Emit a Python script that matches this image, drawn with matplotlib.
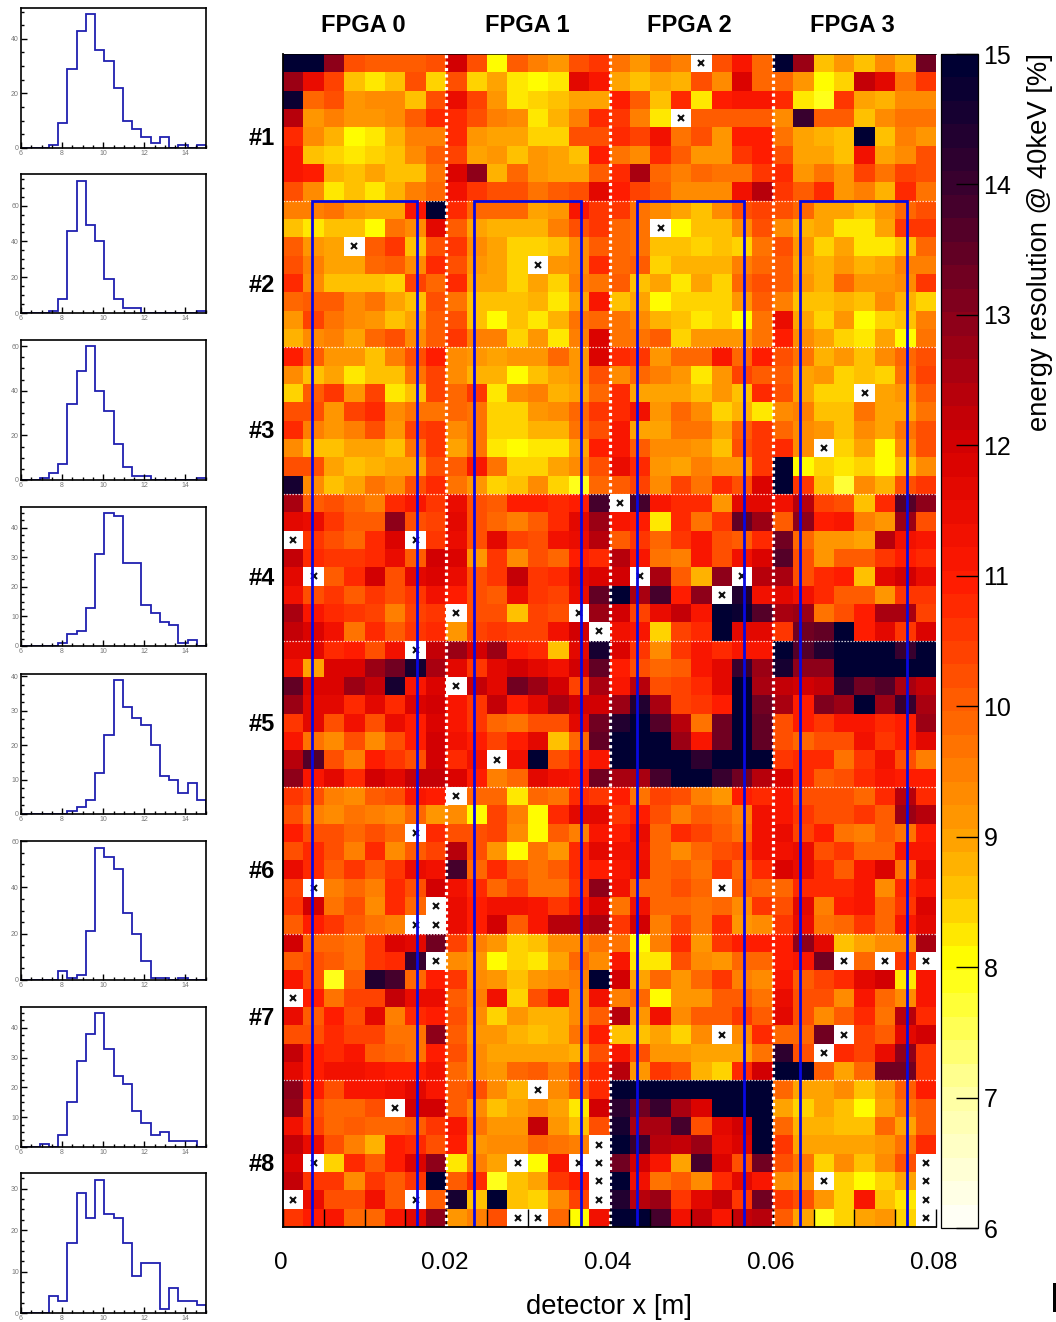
import matplotlib
matplotlib.use("Agg")
from matplotlib import pyplot as plt
from matplotlib.colors import LinearSegmentedColormap
from matplotlib.patches import Rectangle
from matplotlib.transforms import ScaledTranslation
import numpy as np

plt.rcParams['font.family'] = ['Liberation Sans', 'DejaVu Sans']

W, H = 1056, 1322
o = np.nan  # dead pixel, drawn white with a cross

# energy resolution per pixel, one block of 8 rows per module, 32 columns
module_1 = [
    [15,15,13,10.3,10,10,10,10.3, 12,10.3,8,10,9.5,9.2,10.3,10.5, 9.6,9.2,9.8,9.5,o,10.3,11.1,9.9, 15,12.8,8.6,9.1,8.6,9.4,8.8,13.2],
    [12.8,11.4,10.4,8.7,8.3,8.7,10.3,8.5, 10.2,8.4,9.0,8.3,8.1,8.3,11.6,11.2, 9.0,8.6,9.0,8.8,10.2,9.4,11.8,9.9, 9.9,9.2,8.1,8.5,12.2,11.6,9.7,10.6],
    [14.7,9.8,10.2,9.1,9.4,9.4,8.6,10.3, 11.4,10.4,9.2,8.3,8.4,8.7,9,9, 11,10,8.6,10.8,8.2,11,11.2,11.2, 10.8,8.3,7.8,10.5,9,8.8,9.4,9.4],
    [12.4,9.1,9.5,9.1,9.2,9.4,10,10.8, 10.8,10.2,9.5,9.3,8.3,8.8,9.5,10.7, 10.5,9.5,8.2,o,10,10,10,10, 9.4,14,10,10.1,8.7,9.4,9.6,9.7],
    [10.7,9.4,8.8,8.0,8.2,8.8,9.5,9.5, 10.8,9.1,9,9,8.5,8.5,10.2,10.2, 10.7,10.4,11.3,9.6,10.2,9.2,11,11, 9.6,8.9,8.8,8.6,15,8.6,9.5,9.1],
    [11.2,8.6,8.4,8.2,8.4,8.7,9.3,10.1, 10.4,9.0,9.2,8.6,9.1,8.9,8.7,10.9, 9.6,9.3,10.8,10,9.2,9.2,10.5,11, 10.2,9.0,9.0,8.7,11.3,9,9.4,10.2],
    [11.2,10.9,8.8,8.6,9,8.7,8.6,9.7, 11.9,13,8.8,9.9,9.1,9,9,10, 10.8,12.5,9.9,9.5,9.8,9.6,9.7,10.5, 10.7,9.1,9.6,9.2,10.4,9.6,10.4,10.3],
    [10.3,9.3,8.2,8.6,8.3,8.8,9.5,9.9, 11.3,10.6,10.2,10.2,9.7,10,10.2,11.7, 10.9,10.4,10,9.3,9.4,9.4,11.3,12.3, 10.6,10.0,10.8,9.1,9.5,8.8,10.7,9.7],
]
module_2 = [
    [9.5,9.5,9.6,9.2,9,9,11.2,15, 10.7,9.9,9.8,9.9,8.9,9.2,11.1,10.5, 10.5,9.7,9.4,9.0,8.6,9.4,10.2,10.4, 10.2,9.9,8.9,8.9,8.6,9.1,9.9,10.3],
    [8.7,8.3,8.6,8.7,8.1,9.6,9.4,11.6, 10.1,9.0,8.8,8.8,8.8,9.5,10.2,10.5, 9.8,9.6,o,8.0,8.6,8.6,9.3,10.3, 9.3,8.8,9.0,8.2,8.2,9.0,10.6,10.6],
    [10,9.2,8.9,o,10,10.6,8.7,10.2, 10.5,9.4,9.0,8.5,8.5,8.6,9.3,10.0, 9.9,9.6,8.7,8.6,8.4,8.7,8.5,9.6, 10.2,9.2,8.4,9.0,8.3,8.3,8.7,9.8],
    [10.2,9.5,8.9,8.9,9.8,10.1,9.3,10.7, 10.3,9.1,9.0,8.4,o,9.2,9.3,10.8, 9.9,10.0,8.4,8.8,8.8,8.8,9.5,9.9, 10.0,9.0,8.8,9.2,8.8,9.0,9.5,9.5],
    [10.7,9.3,8.6,8.6,8.6,8.4,10.4,9.8, 10.8,9.0,9.0,8.5,8.9,8.4,9.5,9.7, 10.1,8.6,8.9,8.2,8.9,8.5,9.8,10.2, 10.1,9.1,8.8,9.9,9.1,9.1,9.4,10.5],
    [9.8,10.0,10.0,9.3,9.6,8.9,8.6,10.2, 9.7,8.7,8.7,8.6,8.8,8.3,9.0,11.2, 8.7,9.0,8.1,8.4,8.4,8.4,9.1,10.0, 9.5,8.7,8.7,8.8,8.7,9.3,8.8,8.4],
    [9.1,10.4,9.6,9.4,9.2,8.7,8.9,10.0, 10.2,8.6,8.1,8.7,8.3,8.8,9.7,9.9, 9.6,9.3,8.8,8.6,8.3,8.4,8.0,9.7, 11.5,9.0,8.4,9.2,8.1,8.4,8.7,9.5],
    [8.8,9.4,9.5,9.0,9.8,10.2,9.3,10.1, 10.5,9.5,9.5,8.4,9.1,8.2,9.5,11.8, 9.6,9.7,10.0,8.4,9.2,9.2,9.2,9.7, 11.0,9.4,8.9,8.4,8.2,8.9,8.0,9.7],
]
module_3 = [
    [11,10,9.2,9.1,8.6,9.5,10.2,10.9, 9.3,9.1,8.9,9.1,9.1,9.8,9.2,11.9, 10.7,10.6,9.2,9.9,9.8,11.2,9.8,11, 10.2,9.6,8.8,9.1,8.6,9.4,9.9,10.2],
    [9.3,8.7,8.9,8.2,8.7,8.7,9.7,10.4, 9.3,8.8,8.8,8.0,8.6,9.0,9.1,10.3, 9.3,9.8,9.5,9.1,8.2,9.2,10.4,10.1, 10,9,9.1,8.4,8.6,8.5,9.7,10.4],
    [8.4,10.1,10.5,9.1,10.4,8.3,8.6,10.4, 9.9,10.5,8.3,9.4,9.5,8.8,9,9.9, 10.8,9,9.0,9.0,8.6,9.1,8.7,10.7, 10.3,9,8.4,8.5,o,9,9.2,10],
    [10.2,10.3,9.2,10.4,10.7,9.3,9.7,9.7, 9.8,9.6,8.4,8.5,9.2,9.4,9.9,10.5, 10.7,11.3,9.2,9.9,9.3,8.5,8.8,8.2, 9.4,9.5,8.6,8.6,9.7,8.9,8.9,9.6],
    [10.8,9.5,9.2,9.5,10.2,9.2,10.4,10.6, 9.4,9.6,8.5,8.5,8.8,8.8,9.6,10.2, 11.2,9.0,8.9,9.7,9.6,8.9,10,10.5, 9.8,9.4,9.2,8.6,9.4,9,9.7,10.2],
    [9.3,8.6,8.7,9.0,9.0,8.7,9.7,10.5, 9.0,9.6,8.2,8.1,8.2,8.2,9.0,11.0, 11.1,10.0,9.4,9.4,9.1,8.7,10.2,10.6, 10.8,9.3,o,8.4,9.0,8.1,9.3,10.2],
    [10.3,10.3,9.0,8.7,8.8,9,8.9,10.2, 10.1,11.2,9.7,8.5,8.4,8.9,9.4,10.3, 11.4,10.7,9.1,8.9,9.5,9.2,9.2,10.5, 15,8,8.4,8.3,8.4,8.0,8.6,9.4],
    [14.6,9.3,8.6,9.0,9.6,9.3,10.2,10.8, 9.6,9.1,8.4,8.7,9.4,8.4,7.9,9.8, 10,10.4,9.3,10.4,9.6,10.7,10.2,11.9, 15,10.6,8.6,7.7,9.3,8.8,10.3,10.5],
]
module_4 = [
    [12.5,10.1,10.2,9.9,9.5,10.7,11.1,10.5, 11.4,10.2,10,11,10.9,10.8,10.9,13.9, o,13.8,11.2,10.8,10.7,9.1,11.6,11.7, 11.3,12.4,10.4,10.2,8.6,10.7,13.6,13.0],
    [11.7,11.4,10.5,10.1,10.1,13,10.3,10.4, 11.6,10.2,9.9,9.5,10.1,10.7,11.7,12.8, 11.2,11,8.3,10.7,9.6,10.5,13.4,12.8, 10,13.0,11,11.1,9.5,9.2,12.8,10.3],
    [o,10.5,10.3,9.8,10.7,11.8,o,10.6, 11.5,10.3,11.6,10.4,10.2,11.3,11.5,12.3, 10.1,10.5,9.9,10.5,11.2,10.2,10,10.8, 13.2,9.9,9.1,9.2,8.9,12.3,11.3,11.2],
    [12.2,10.8,10.6,10.6,10.7,11.4,10.1,12, 11.9,9.2,10.5,9.4,10.3,9.9,11,10.8, 12.3,11.1,9.7,9.5,11.2,10.3,11.3,11.8, 13.7,10.3,9.1,10.1,10.1,10.5,11,10.8],
    [11.7,o,10.1,10.7,12.1,10.2,11.7,11.8, 11.4,10.2,10.6,12.2,10.5,10.8,11.7,11.9, 12,o,12.5,10,8.8,13,o,12.3, 12.6,10.3,10.7,11,8.7,11.6,12,11.5],
    [11.3,10.2,10.5,10,10.6,10.2,10.5,11.3, 10.9,10.2,10,11.4,10.5,10.4,11.5,13.4, 15,12.6,13.8,11,12.9,o,14.3,11.3, 11.6,11.3,10.8,10,10,9.1,10.6,10.6],
    [12.6,11.2,10.7,10.5,10.4,9.5,10.4,10.5, o,10.2,10.3,8.6,10.4,10.2,o,12.7, 12,10.4,11.5,12.2,11.2,15,14.7,13.6, 12.5,12.7,9.6,10.2,11,12.5,12.5,10.4],
    [12.2,11.8,11.3,9.6,10.7,10.1,10.5,10.8, 9.1,10.4,10.5,10.4,10.4,11.3,12,o, 11.3,11.2,8.4,10.4,10.7,15,11.7,11.6, 10.6,13.2,13.4,15,11,11.7,10.5,11.9],
]
module_5 = [
    [11.7,11.7,10.8,11,10.2,11.3,o,12.2, 12.8,12,12.8,11,10.8,8.7,11.7,14.5, 11.9,10.5,9.3,10.5,11.1,10.8,11.2,11.2, 15,13.6,14.4,15,15,15,14,15],
    [11.3,8.9,11.9,11.8,12.7,13.2,14.5,12.5, 11.6,10.6,11.6,12,11.6,11.3,12,13.4, 10.9,10.2,9.8,10.1,11.2,11.7,14,12.8, 14.6,13,13,15,15,15,15,15],
    [13.5,11.8,11.8,12.8,12.2,14.6,11.2,11.9, o,12.2,11.7,13.2,12.8,12.1,10.4,12.5, 11.2,12.4,10.3,10.4,10.7,11.6,15,12.5, 12.2,12.1,12.2,14.2,13.2,13.7,12.5,12.2],
    [12.7,11.6,11.7,10.7,11.6,10.8,11.8,12, 11.2,10.6,12.2,10.9,11.7,12.5,12.1,12, 12.8,14.4,12.5,10.4,10.6,11,15,13.2, 12.5,11,13.1,12.8,15,12.7,14,12.6],
    [10.6,11.6,10.3,11.3,10.3,11.4,11,11.9, 11.1,10.5,9.8,9.7,10.3,10.2,11.6,13.2, 14.4,15,13.7,12.3,9.6,13.2,15,13.5, 10.2,10.9,10.5,11.2,11.2,10.7,10.9,12.8],
    [11.2,9.7,9.4,10.3,9.3,10.3,11,12, 11.3,11,10.4,10.9,11.6,8.7,9.8,13.4, 15,15,15,12.7,11.2,13.3,15,13.4, 10.3,9.8,10.2,10.2,11.3,10.5,11,11.6],
    [12.4,13.6,10.3,9.5,11,10.5,10.3,12, 10.7,11.3,o,11.3,15,10.2,10.7,11.1, 15,15,15,15,14.2,15,15,15, 10.6,10.8,10.8,9.6,10.6,11.3,10.2,9.5],
    [13,11.2,11.6,10.7,12,11.7,12.2,12.2, 11.9,10.9,9.5,9.8,11.7,11.3,11.2,13.2, 12.6,12.6,13.8,15,15,14,13.2,12.4, 11.9,10.8,10.1,10.2,10.8,11.2,10.9,10.9],
]
module_6 = [
    [10.5,10.2,9.5,9.4,10,10.3,11.1,11, o,9.8,9.9,8.3,9.8,9.7,10.7,10.6, 11,9.7,10.4,10.3,9.5,9.1,11,10.8, 11.2,10.3,10.3,10.2,9.9,10.7,12.4,10.8],
    [10.3,9.5,9.4,9.7,9.5,9.4,9.8,9.2, 9.4,8.1,10.4,9.5,8.0,10.8,11.7,11.6, 10.6,11,10.3,9.5,10.1,9.9,9.5,11.3, 11.1,10.5,10.3,10.2,10.5,10.0,12.8,12.3],
    [11,10.3,10.3,9.8,10.3,9.9,o,10.8, 10.3,10.3,10.4,9.4,8.0,10.1,9.5,11.1, 11,11.4,9.9,10.7,10.4,10.1,9.6,11.3, 11.5,10.4,11,9.6,9.5,10,9.7,11],
    [10.3,10.8,10.3,9.5,10.8,9.3,10.1,10.4, 12.4,10.2,9.2,8.1,9.7,9.2,10.8,11.6, 11.3,11.3,9.8,9.3,9.8,10.3,10.4,11.3, 11.3,11.5,10.3,10.5,9.9,9.9,11.2,11.2],
    [11.5,10.8,10,10.5,10,10.5,11.5,11.3, 13.9,9.8,10.7,10,9.6,10,10.7,11, 11.2,11.4,9.8,10.1,9.7,10.6,9.9,10.8, 11.8,11.5,10.8,10,11.1,11.9,9.6,11.5],
    [10.4,o,9.5,9.8,9.5,10.8,10.2,12, 11.3,10.8,9.9,10.4,9.7,9.7,10.6,13, 11.3,9.9,9.9,10.2,9.9,o,10,9.9, 9.9,10.8,10.7,10.7,11.1,9.4,10.7,11.2],
    [10.6,12,9.6,10.3,9.4,10.7,9.9,o, 11.5,10.9,11.3,11.3,11.1,10.5,11.2,11.9, 9.6,11.3,9.9,9.8,9.6,9.9,9.3,10.5, 10.2,11.7,9.5,11,11.2,9.9,10.6,11.8],
    [10.1,10.9,10.5,10.1,9.6,9.5,o,o, 11.5,10.9,12,10.1,11.1,12.3,12.3,12.5, 10.6,12,9.5,10.4,9.6,10.7,9.2,9.3, 10.6,11.4,9.6,9.9,10.6,9.8,11.1,11.6],
]
module_7 = [
    [12,9.9,9.8,9.7,10.6,11.9,11.6,13.3, 10.4,9.5,9.1,8.5,8.7,9.4,9.4,9.6, 9.7,8.1,9.5,10.8,9.1,10.6,11,11, 11,13,11.6,8.6,9,9.3,9.4,12.6],
    [10.1,10.3,10.1,9.6,10.5,10.7,14,o, 9.3,9.1,8.0,8.5,8.3,8.9,9.9,9.4, 11.2,8.2,8.3,10.2,9.3,9.1,9.9,9.8, 10.9,11.1,13.2,o,9.8,o,10.6,o],
    [11.2,10.2,7.8,10.1,14.3,13.8,9.8,11, 10.5,9.3,9.2,8.6,9.2,9.3,9.5,15, 12,8.9,9.8,9.2,9.9,10.5,9.5,9.4, 11.2,10.1,10.4,10.7,11.6,12,8.3,11.2],
    [o,10.9,9.7,10.4,10.4,12.2,11.5,11.5, 10.1,9.5,11.3,8.5,10.2,11.2,9.4,11.3, 9.5,9.8,8.1,9.2,9.2,10,10.1,9.6, 11.5,10.2,10.3,9.4,11.2,9.8,9.3,11.2],
    [11.5,10.1,10.9,10.3,11.7,9.5,10.8,11, 10.3,9.4,8.5,9.2,8.8,8.8,9.3,10.1, 12.3,9.2,11.3,9.4,10.1,10,10.6,10, 11.6,10.2,9.4,10,10.7,9.6,12.3,10.8],
    [10.3,10.3,10.7,10.4,10.4,9.7,9.7,13, 10,9.2,9.1,8.8,8.6,8.8,9.7,11, 8.7,8.7,8.9,8.5,9.3,o,9.3,10.7, 9.8,9.8,13.3,o,10.4,10,11.6,12],
    [12.2,11,10.7,11.1,10.1,9.9,9.6,11, 10.2,9.3,8.9,9,9,9,8.8,10.3, 11.1,10.2,9.1,9.1,8.9,8.9,9,9.7, 14.2,10.3,o,10.8,10.4,11.4,13,10.5],
    [11.6,10.9,11.3,11.3,11.1,11,11,11.3, 9.9,9.4,9.1,9.9,10.1,9.5,10.3,10.7, 12.4,9.2,10.5,10.2,8.8,8.5,10.8,12, 15,15,10,9,9.9,13.2,13.2,10.5],
]
module_8 = [
    [13,11,10.3,11.1,11.1,11.3,11.6,11.2, 10,10.2,9.4,8.8,o,9.3,10,10.7, 15,15,15,15,15,15,15,15, 9.8,9,9.0,9.4,8.6,9.2,10.1,11],
    [12.7,10.2,9.8,9.8,10.2,o,12.1,12, 10.1,9.3,8.6,9,9.3,8.9,8.3,12.1, 14.2,13.3,14,12.6,11.9,15,15,15, 8.9,8.4,9,8.6,8,8.9,9.7,10.1],
    [11.3,10.4,9.8,10,9.9,9.9,10.1,10.6, 11.2,9.6,9.1,9.1,12.2,9.1,8.6,10.3, 14.6,12.6,12.5,13.8,10.3,11.7,12,15, 9.9,8.8,8.8,8.6,8.6,9.9,9,10.1],
    [12.2,11.4,10.3,9.5,8.8,10.9,10.7,10.2, 10.9,9.2,9.4,9.3,9.8,9.7,9.5,o, 15,14,12.4,12.2,12.7,11.4,11.9,15, 10.6,8.9,8.9,9,9,9.1,9.7,10.7],
    [11.8,o,8.4,10.7,10.1,11,11.8,13, 8.3,9.5,9,o,8,11.2,o,o, 13.3,12,11.2,8.9,13.8,11.8,10.3,13.2, 10.2,9.6,8.5,9.3,8.6,9.4,10.2,o],
    [12.2,10.5,10.5,9.4,10.6,10.1,10.5,15, 10.1,10.7,7.9,8.7,9,10.5,10.9,o, 15,11.3,9.6,10.1,9.4,10.7,11.6,11.1, 9.3,9.1,o,8.5,8.1,8.5,9,o],
    [o,11.5,10.2,10.3,11.3,10.1,o,10, 14.5,8.7,15,8.6,8.5,9.4,10.4,o, 14.3,12.4,12.7,10.5,11.6,12.2,10.6,13.2, 10.5,10.3,9.1,8.5,11.2,8.6,8.2,o],
    [10.6,11,11.2,9.8,9.9,11.2,11.7,13, 9.1,9.5,10.2,o,o,9.8,8.1,11.3, 15,15,13.8,11.3,12.2,11.2,12.2,12.3, 10,9,7.9,8.4,8.9,9.1,8.5,o],
]

# histogram counts, 20 bins from 6 to 15
hist_1 = [0,0,0,1,9,29,43,49,36,32,22,10,7,4,2,4,0,1,0,1]
hist_2 = [0,0,0,1,8,46,74,49,40,19,8,3,3,0,0,0,0,0,0,1]
hist_3 = [0,0,1,3,7,34,49,60,40,31,16,6,2,2,0,0,0,0,0,1]
hist_4 = [0,0,0,0,1,4,5,13,31,45,44,28,28,14,11,8,7,1,2,0]
hist_5 = [0,0,0,0,0,1,2,4,12,23,39,31,28,26,20,11,10,6,9,4]
hist_6 = [0,0,0,0,4,1,2,21,57,53,48,29,20,8,1,1,0,1,0,0]
hist_7 = [0,0,1,0,4,15,29,38,45,33,24,21,12,8,4,5,2,2,2,0]
hist_8 = [0,0,0,4,3,17,29,23,32,24,23,17,9,12,12,1,6,3,3,2]
hist_ymax = [51.3, 77.7, 62.7, 47, 40.7, 60, 47, 33.8]
hist_major = [20, 20, 20, 10, 10, 20, 10, 10]
hist_boxes = [(8, 148), (174, 313), (340, 480), (507, 646), (674, 814), (841, 980), (1007, 1147), (1173, 1313)]

fpga_names = ['FPGA 0', 'FPGA 1', 'FPGA 2', 'FPGA 3']
module_names = ['#1', '#2', '#3', '#4', '#5', '#6', '#7', '#8']
x_ticks = [0, 0.02, 0.04, 0.06, 0.08]
x_tick_labels = ['0', '0.02', '0.04', '0.06', '0.08']
bar_ticks = [6, 7, 8, 9, 10, 11, 12, 13, 14, 15]
# selected regions, x range of each box in metres
blue_boxes = [(0.00355, 0.01642), (0.0234, 0.0365), (0.04337, 0.05648), (0.06334, 0.07645)]


def px_axes(fig, left, top, right, bottom):
    return fig.add_axes([left / W, 1 - bottom / H, (right - left) / W, (bottom - top) / H])


def main():
    fig = plt.figure(figsize=(W / 100, H / 100), dpi=100)

    # histograms on the left
    all_hists = [hist_1, hist_2, hist_3, hist_4, hist_5, hist_6, hist_7, hist_8]
    edges = np.linspace(6, 15, 21)
    for i, counts in enumerate(all_hists):
        top, bottom = hist_boxes[i]
        ax = px_axes(fig, 21, top, 206, bottom)
        ax.stairs(counts, edges, color='#2020b0', lw=1.3, baseline=0)
        ax.set_xlim(6, 15)
        ax.set_ylim(0, hist_ymax[i])
        ax.set_xticks([6, 8, 10, 12, 14])
        ax.set_xticks(np.arange(6, 15.01, 0.5), minor=True)
        ax.set_yticks(np.arange(0, hist_ymax[i] + 0.01, hist_major[i]))
        ax.set_yticks(np.arange(0, hist_ymax[i] + 0.01, hist_major[i] / 4), minor=True)
        ax.tick_params(which='major', direction='in', length=4, width=1.0, labelsize=5,
                       labelcolor='#777777', pad=1.5, top=False, right=False)
        ax.tick_params(which='minor', direction='in', length=2.5, width=1.0, top=False, right=False)
        for s in ax.spines.values():
            s.set_linewidth(1.2)

    # main pixel map
    values = np.array(module_1 + module_2 + module_3 + module_4
                      + module_5 + module_6 + module_7 + module_8, dtype=float)
    cmap = LinearSegmentedColormap.from_list('res', [
        (0 / 9, (1, 1, 0.96)),
        (1 / 9, (1, 1, 0.62)),
        (2 / 9, (1, 1, 0)),
        (2.5 / 9, (1, 0.78, 0)),
        (3 / 9, (1, 0.62, 0)),
        (4 / 9, (1, 0.37, 0)),
        (5 / 9, (1, 0.1, 0)),
        (6 / 9, (0.84, 0, 0)),
        (7 / 9, (0.55, 0, 0.1)),
        (8 / 9, (0.24, 0, 0.18)),
        (9 / 9, (0, 0, 0.2)),
    ], N=50)
    cmap.set_bad('white')

    ax = px_axes(fig, 283, 54, 936, 1227)
    x_edges = np.linspace(0, 0.08, 33)
    y_edges = np.arange(65)
    mesh = ax.pcolormesh(x_edges, y_edges, np.ma.masked_invalid(values), cmap=cmap, vmin=6, vmax=15)
    ax.set_xlim(0, 0.08)
    ax.set_ylim(64, 0)

    # crosses on the dead pixels
    rows, cols = np.nonzero(np.isnan(values))
    ax.plot((cols + 0.5) * 0.0025, rows + 0.5, ls='none', marker='x', ms=5, mew=1.5, color='#111111')

    # module and FPGA borders
    for r in range(8, 64, 8):
        ax.axhline(r, color='white', lw=0.9, ls=(0, (1, 1.4)))
    for x in (0.02, 0.04, 0.06):
        ax.axvline(x, color='white', lw=2.3, ls=(0, (1, 1)))

    for left, right in blue_boxes:
        ax.plot([left, left, right, right], [64, 8, 8, 64], color='#0808e0', lw=2.0, solid_joinstyle='miter')

    ax.set_xticks(x_ticks)
    ax.set_xticklabels(x_tick_labels)
    ax.set_xticks(np.arange(0, 0.0801, 0.005), minor=True)
    ax.set_yticks([])
    ax.tick_params(axis='x', which='both', direction='in', length=13, width=1.0, labelsize=17.5, pad=18, top=False)
    shift = ScaledTranslation(-2 / 100, 0, fig.dpi_scale_trans)
    for label in ax.get_xticklabels():
        label.set_transform(label.get_transform() + shift)
    ax.spines['top'].set_linewidth(0.5)
    ax.spines['right'].set_visible(False)
    ax.spines['left'].set_linewidth(1.3)
    ax.spines['bottom'].set_linewidth(1.3)

    for name, x_px in zip(fpga_names, [363, 527, 689, 852]):
        fig.text(x_px / W, 1 - 25.5 / H, name, fontsize=17, fontweight='bold', ha='center', va='center')
    for i, name in enumerate(module_names):
        fig.text(262 / W, 1 - (138.5 + 146.6 * i) / H, name, fontsize=17, fontweight='bold', ha='center', va='center')
    fig.text(609 / W, 1 - 1307 / H, 'detector x [m]', fontsize=19.7, ha='center', va='center')

    # colour bar
    cax = px_axes(fig, 941, 54, 978, 1228)
    bar = fig.colorbar(mesh, cax=cax, ticks=bar_ticks)
    bar.outline.set_linewidth(0.9)
    cax.tick_params(direction='in', length=16, width=1.0, labelsize=18, pad=4)
    fig.text(1040 / W, 1 - 53 / H, 'energy resolution @ 40keV [%]', fontsize=19.7, rotation=90, ha='center', va='top')

    # cut-off mark on the right edge of the page
    fig.add_artist(Rectangle((1053 / W, 1 - 1312 / H), 3 / W, 29 / H, transform=fig.transFigure,
                             facecolor='black', edgecolor='none'))

    fig.savefig('out.png', dpi=100)


if __name__ == "__main__":
    main()
